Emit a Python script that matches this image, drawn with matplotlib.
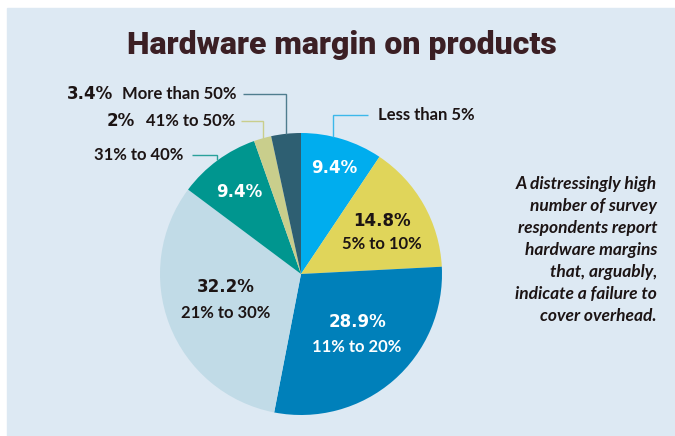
import numpy as np
import matplotlib
matplotlib.use("Agg")
import matplotlib.pyplot as plt
from matplotlib.patches import Rectangle

# Data (clockwise from 12 o'clock)
categories = ["Less than 5%", "5% to 10%", "11% to 20%", "21% to 30%",
              "31% to 40%", "41% to 50%", "More than 50%"]
shares = [9.4, 14.8, 28.9, 32.2, 9.4, 2.0, 3.4]
pct_labels = ["9.4%", "14.8%", "28.9%", "32.2%", "9.4%", "2%", "3.4%"]
colors = ["#00adee", "#e0d55a", "#0080ba", "#c1dbe7", "#00968f", "#c9ce8c", "#2e5f72"]

note = ("A distressingly high\nnumber of survey\nrespondents report\nhardware margins\n"
        "that, arguably,\nindicate a failure to\ncover overhead.")

W, H = 675, 436
BG = "#dde9f3"
DARK = "#1c1414"


def Y(y):
    # image y (from top) -> axes y
    return H - y


fig = plt.figure(figsize=(W / 100, H / 100), dpi=100, facecolor="white")
ax = fig.add_axes([0, 0, 1, 1])
ax.add_patch(Rectangle((7, 0), W - 7, H - 8, color=BG, zorder=0))

cx, cy, r = 301, Y(274), 141
wedges, _ = ax.pie(shares, colors=colors, startangle=90, counterclock=False,
                   center=(cx, cy), radius=r, frame=True,
                   wedgeprops=dict(linewidth=0))
ax.set_xlim(0, W)
ax.set_ylim(0, H)
ax.set_aspect("equal")
ax.axis("off")

ax.text(342, Y(45), "Hardware margin on products", ha="center", va="center",
        fontsize=23, fontweight=900, family="Roboto", color="#3b1f24")

pfont = dict(family="DejaVu Sans", fontweight="bold", fontsize=12)
cfont = dict(family="Lato", fontweight="bold", fontsize=12)

# labels inside the pie: (index, x, y of pct, y of category or None, colour)
inside = [(0, 334, 168, None, "white"),
          (1, 382, 221, 244, DARK),
          (2, 357, 322, 347, "white"),
          (3, 226, 287, 313, DARK),
          (4, 239, 192, None, "white")]
for i, x, yp, yc, c in inside:
    ax.text(x, Y(yp), pct_labels[i], ha="center", va="center", color=c, **pfont)
    if yc is not None:
        ax.text(x, Y(yc), categories[i], ha="center", va="center", color=c, **cfont)


# outside labels with leader lines
def leader(i, frac, y_text, x_end, color):
    w = wedges[i]
    ang = np.deg2rad(w.theta1 + frac * (w.theta2 - w.theta1))
    px, py = cx + r * np.cos(ang), cy + r * np.sin(ang)
    ax.plot([px, px, x_end], [py, Y(y_text), Y(y_text)], color=color, lw=1,
            solid_capstyle="butt", solid_joinstyle="miter")


leader(0, 0.61, 115, 368, "#3cb8ea")
ax.text(378, Y(115), categories[0], ha="left", va="center", color=DARK, **cfont)

leader(6, 0.5, 94, 243, "#4f7d8e")
ax.text(237, Y(94), categories[6], ha="right", va="center", color=DARK, **cfont)
ax.text(113, Y(94), pct_labels[6], ha="right", va="center", color=DARK, **pfont)

leader(5, 0.5, 121, 241, "#c9ce8c")
ax.text(235, Y(121), categories[5], ha="right", va="center", color=DARK, **cfont)
ax.text(135, Y(121), pct_labels[5], ha="right", va="center", color=DARK, **pfont)

leader(4, 0.5, 155, 192, "#2aa19b")
ax.text(183, Y(155), categories[4], ha="right", va="center", color=DARK, **cfont)

ax.text(657, Y(250), note, ha="right", va="center", color=DARK, family="Lato",
        fontweight="bold", style="italic", fontsize=12.5, linespacing=1.46)

fig.savefig("out.png", dpi=100, facecolor="white")
